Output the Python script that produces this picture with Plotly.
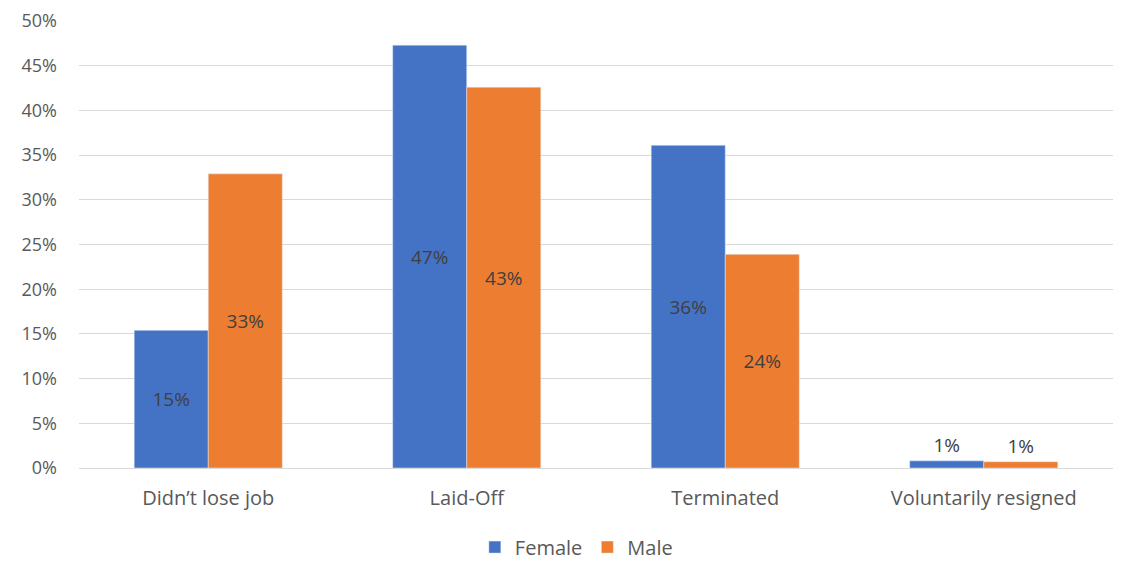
import plotly.graph_objects as go

# Job outcome by gender (share of respondents)
categories = ["Didn\u2019t lose job", "Laid-Off", "Terminated", "Voluntarily resigned"]
female = [0.154, 0.473, 0.361, 0.008]
male = [0.329, 0.426, 0.239, 0.007]
y_ticks = [0, 0.05, 0.10, 0.15, 0.20, 0.25, 0.30, 0.35, 0.40, 0.45, 0.50]

FONT = "Open Sans"
SIZE = 20
label_pos = ["inside", "inside", "inside", "outside"]

fig = go.Figure()

fig.add_trace(go.Bar(
    name="Female",
    x=categories,
    y=female,
    marker_color="#4472C4",
    texttemplate="%{y:.0%}",
    textposition=label_pos,
    insidetextanchor="middle",
    textfont=dict(family=FONT, size=19, color="#404040"),
    cliponaxis=False,
))

fig.add_trace(go.Bar(
    name="Male",
    x=categories,
    y=male,
    marker_color="#ED7D31",
    texttemplate="%{y:.0%}",
    textposition=label_pos,
    insidetextanchor="middle",
    textfont=dict(family=FONT, size=19, color="#404040"),
    cliponaxis=False,
))

# light frame line on the right edge of the chart box
fig.add_shape(type="line", xref="paper", yref="paper", layer="above",
              x0=1.024, x1=1.024, y0=-0.26, y1=1.03,
              line=dict(color="#D0D0D0", width=2))

# the page body has an 8px margin, so margins are shifted to compensate
fig.update_layout(
    width=1144,
    height=576,
    margin=dict(l=71, r=39, t=13, b=116),
    paper_bgcolor="white",
    plot_bgcolor="white",
    barmode="group",
    bargap=0.427,
    bargroupgap=0,
    font=dict(family=FONT, size=SIZE, color="#595959"),
    showlegend=True,
    legend=dict(
        orientation="h",
        x=0.481, xanchor="center",
        y=-0.177, yanchor="middle",
        font=dict(family=FONT, size=SIZE, color="#595959"),
        itemwidth=30,
    ),
    xaxis=dict(
        showgrid=False,
        showline=False,
        ticks="",
        automargin=False,
        ticklabelstandoff=16,
        tickfont=dict(family=FONT, size=SIZE, color="#595959"),
    ),
    yaxis=dict(
        range=[0, 0.5],
        tickvals=y_ticks,
        tickformat=".0%",
        showgrid=True,
        gridcolor="#D9D9D9",
        gridwidth=1,
        zeroline=True,
        zerolinecolor="#D9D9D9",
        zerolinewidth=1,
        showline=False,
        ticks="",
        automargin=False,
        ticklabelstandoff=21,
        tickfont=dict(family=FONT, size=18, color="#595959"),
    ),
)

fig.write_html("out.html")
